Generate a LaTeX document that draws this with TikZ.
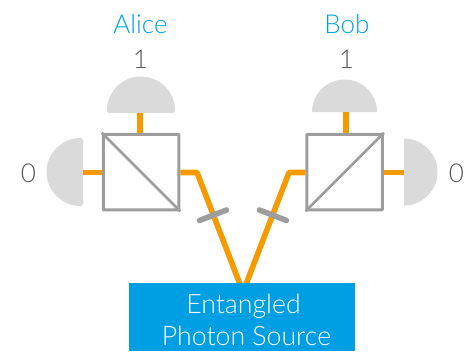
\documentclass[tikz,border=0pt]{standalone}
\usepackage{fontspec}
\newfontfamily\lightfont[UprightFont={* Light}]{Lato}
\definecolor{beam}{HTML}{F59A00}
\definecolor{cubeline}{HTML}{9D9D9D}
\definecolor{det}{HTML}{DADADA}
\definecolor{srcblue}{HTML}{009FE3}
\definecolor{numtxt}{HTML}{575757}
\tikzset{
  cube/.style={draw=cubeline,line width=3pt,fill=white,minimum size=75.5pt,inner sep=0pt,rounded corners=0.6pt},
  split/.style={draw=cubeline,line width=2.6pt},
  beamline/.style={draw=beam,line width=5.6pt,line join=round},
  detector/.style={fill=det},
  filterbar/.style={draw=cubeline,line width=5.6pt,line cap=round},
  who/.style={text=srcblue,font=\lightfont\fontsize{26}{28}\selectfont,inner sep=0pt},
  num/.style={text=numtxt,font=\lightfont\fontsize{26}{28}\selectfont,inner sep=0pt},
  source/.style={fill=srcblue,inner sep=0pt},
  sourcetext/.style={text=white,font=\lightfont\fontsize{26.7}{34}\selectfont,inner sep=0pt},
}
\begin{document}
\begin{tikzpicture}[x=1pt,y=-1pt]
\useasboundingbox (0,0) rectangle (473,351);
% detectors
\fill[detector] (107,110.5) arc[start angle=180,end angle=360,radius=34] arc[start angle=0,end angle=90,radius=2.5] -- (109.5,113) arc[start angle=90,end angle=180,radius=2.5] -- cycle;
\fill[detector] (80.5,138) arc[start angle=270,end angle=90,radius=34] arc[start angle=90,end angle=0,radius=2.5] -- (83,140.5) arc[start angle=0,end angle=-90,radius=2.5] -- cycle;
\fill[detector] (312,112) arc[start angle=180,end angle=360,radius=32.5] -- cycle;
\fill[detector] (404,138.5) arc[start angle=-90,end angle=90,radius=33.5] -- cycle;
% named nodes
\node[cube] (cubeA) at (141,172) {};
\node[cube] (cubeB) at (344.7,172) {};
\coordinate (detAtop) at (140,113);
\coordinate (detAleft) at (83,172.5);
\coordinate (detBtop) at (346,112);
\coordinate (detBright) at (404,172.5);
\coordinate (bendA) at (197,172.5);
\coordinate (bendB) at (289,172.5);
\coordinate (apex) at (243,292);
% beams
\draw[beamline] (detAtop) -- (detAtop |- cubeA.north);
\draw[beamline] (detAleft) -- (cubeA.west |- detAleft);
\draw[beamline] (detBtop) -- (detBtop |- cubeB.north);
\draw[beamline] (detBright) -- (cubeB.east |- detBright);
\draw[beamline] (cubeA.east |- bendA) -- (bendA) -- (apex) -- (bendB) -- (cubeB.west |- bendB);
% splitting diagonals
\draw[split] (cubeA.north west) -- (cubeA.south east);
\draw[split] (cubeB.south west) -- (cubeB.north east);
% filters
\draw[filterbar] (199.5,220.5) -- (226.5,210);
\draw[filterbar] (259.5,210) -- (286.5,220.5);
% source
\node[source,minimum width=226pt,minimum height=68pt,anchor=north west] (src) at (129,283) {};
\node[sourcetext] (srcA) at (243.5,306) {Entangled};
\node[sourcetext] (srcB) at (246.5,336) {Photon Source};
% labels
\node[who] (alice) at (140.5,24) {Alice};
\node[who] (bob) at (347,24) {Bob};
\node[num] (oneA) at (140.5,59) {1};
\node[num] (oneB) at (346.5,59) {1};
\node[num] (zeroA) at (28.5,173) {0};
\node[num] (zeroB) at (456.5,173) {0};
\end{tikzpicture}
\end{document}
